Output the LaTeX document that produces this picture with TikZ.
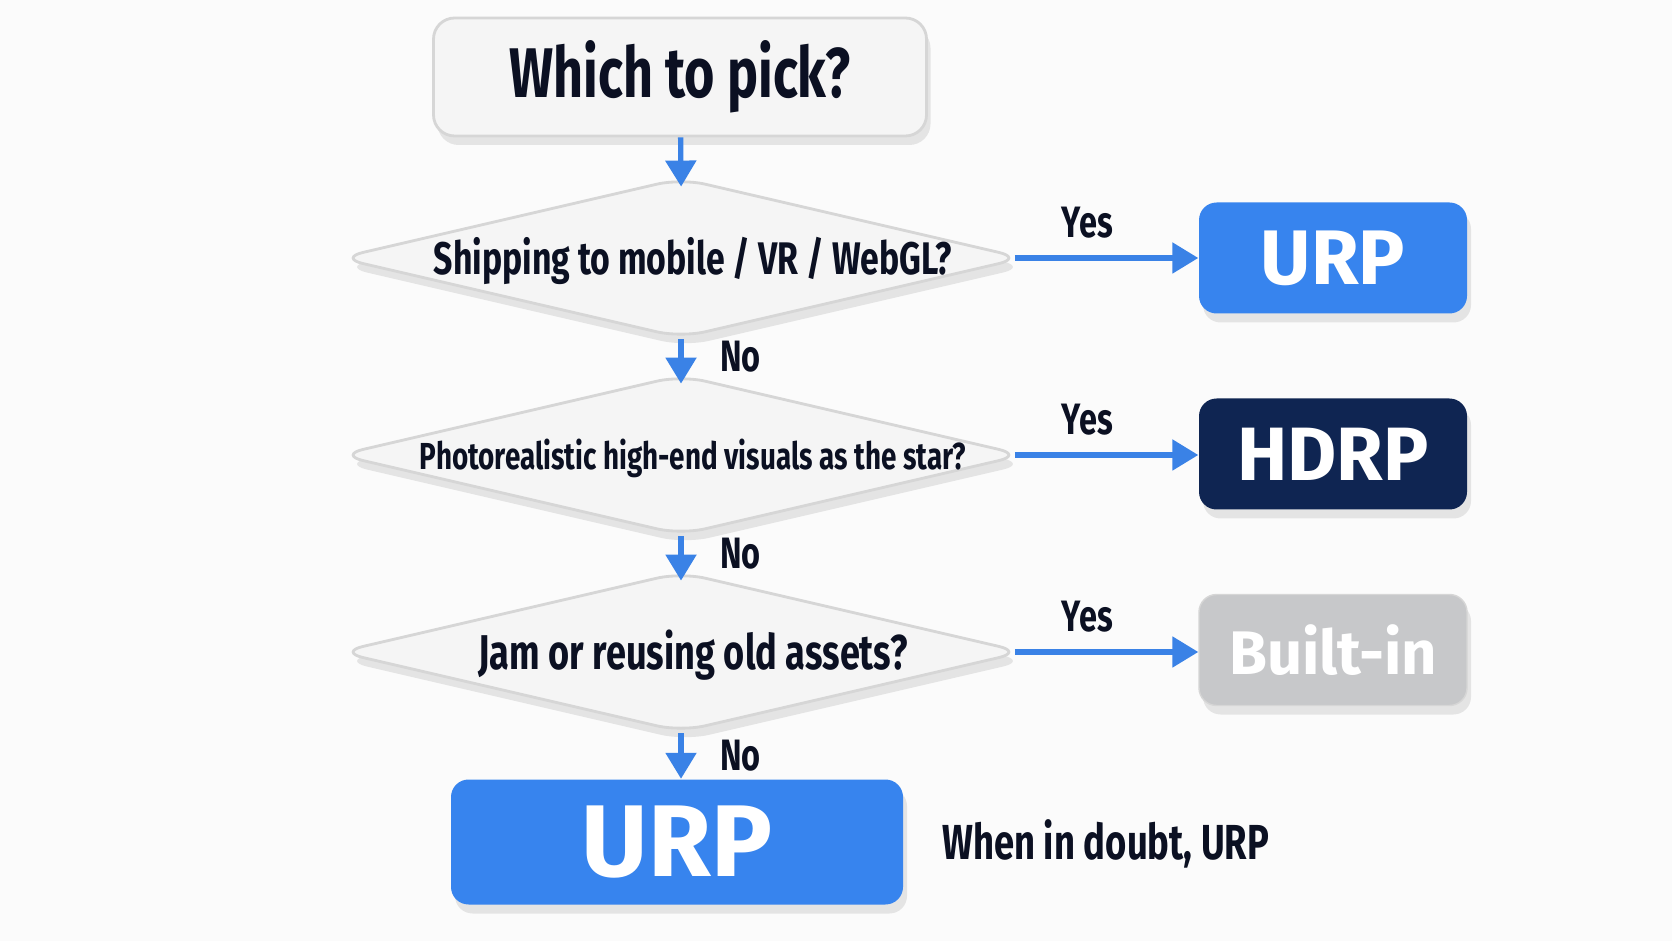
\documentclass[tikz,border=0pt]{standalone}
\usepackage{fontspec}
\setmainfont{Fira Sans}[FakeStretch=0.74]
\newfontfamily\widefont{Fira Sans}
\usetikzlibrary{positioning,shapes.geometric,arrows.meta,shadows}
\definecolor{ink}{HTML}{0B1022}
\definecolor{paper}{HTML}{FBFBFB}
\definecolor{flowblue}{HTML}{3A82E6}
\definecolor{urpblue}{HTML}{3784EE}
\definecolor{navy}{HTML}{0F2552}
\definecolor{steel}{HTML}{C7C8CA}
\definecolor{shell}{HTML}{F5F5F5}
\definecolor{rim}{HTML}{D6D6D6}
\tikzset{
  soft/.style={drop shadow={opacity=0.18, shadow xshift=0.4mm, shadow yshift=-0.9mm}},
  startbox/.style={rectangle, rounded corners=6pt, draw=rim, line width=0.8pt, fill=shell, soft,
    minimum width=4.93cm, minimum height=1.18cm, text=ink, font=\bfseries\fontsize{20}{22}\selectfont},
  decision/.style={diamond, draw=rim, line width=0.8pt, fill=shell, soft, rounded corners=7pt,
    minimum width=6.85cm, minimum height=1.6cm, inner sep=0pt},
  qtext/.style={text=ink, xshift=1.2mm, yshift=-0.3mm, font=\bfseries\fontsize{13}{15}\selectfont},
  pipebox/.style={rectangle, rounded corners=5pt, soft, minimum width=2.68cm, minimum height=1.11cm,
    text=white, font=\widefont\bfseries\fontsize{22}{24}\selectfont},
  flow/.style={draw=flowblue, line width=1.5pt, -{Triangle[length=2.6mm,width=3mm]}},
  answer/.style={text=ink, font=\bfseries\fontsize{12.5}{14}\selectfont}
}
\begin{document}
\begin{tikzpicture}
\fill[paper] (0,0) rectangle (16.72,9.41);
\useasboundingbox (0,0) rectangle (16.72,9.41);
\node[startbox] (pick) at (6.80,8.64) {Which to pick?};
\node[decision, label={[qtext]center:Shipping to mobile / VR / WebGL?}] (mobile) at (6.81,6.83) {};
\node[decision, label={[qtext, font=\bfseries\fontsize{10.7}{13}\selectfont]center:Photorealistic high-end visuals as the star?}] (photo) at (6.81,4.86) {};
\node[decision, label={[qtext, font=\bfseries\fontsize{13.9}{15}\selectfont]center:Jam or reusing old assets?}] (jam) at (6.81,2.89) {};
\node[pipebox, fill=urpblue] (urp) at (13.33,6.83) {URP};
\node[pipebox, fill=navy, font=\widefont\bfseries\fontsize{21.5}{24}\selectfont] (hdrp) at (13.33,4.87) {HDRP};
\node[pipebox, fill=steel, draw=rim, font=\widefont\bfseries\fontsize{17.5}{20}\selectfont] (builtin) at (13.33,2.91) {Built-in};
\node[pipebox, fill=urpblue, minimum width=4.52cm, minimum height=1.25cm,
  font=\widefont\bfseries\fontsize{29}{32}\selectfont] (fallback) at (6.77,0.99) {URP};
\node[answer, anchor=west, font=\bfseries\fontsize{14}{16}\selectfont] (doubt) at (9.30,0.97) {When in doubt, URP};
\draw[flow, shorten >=-1mm] (pick) -- (mobile.north);
\draw[flow, shorten <=-1mm] (mobile.east) -- (mobile.east -| urp.west) node[answer, above=0.5mm, pos=0.36] (yes1) {Yes};
\draw[flow, shorten <=-1mm] (photo.east) -- (photo.east -| hdrp.west) node[answer, above=0.5mm, pos=0.36] (yes2) {Yes};
\draw[flow, shorten <=-1mm] (jam.east) -- (jam.east -| builtin.west) node[answer, above=0.5mm, pos=0.36] (yes3) {Yes};
\draw[flow, shorten >=-1mm] (mobile.south) -- (photo.north) node[answer, right=2.5mm, midway] (no1) {No};
\draw[flow, shorten >=-1mm] (photo.south) -- (jam.north) node[answer, right=2.5mm, midway] (no2) {No};
\draw[flow] (jam.south) -- (jam.south |- fallback.north) node[answer, right=2.5mm, midway] (no3) {No};
\end{tikzpicture}
\end{document}
